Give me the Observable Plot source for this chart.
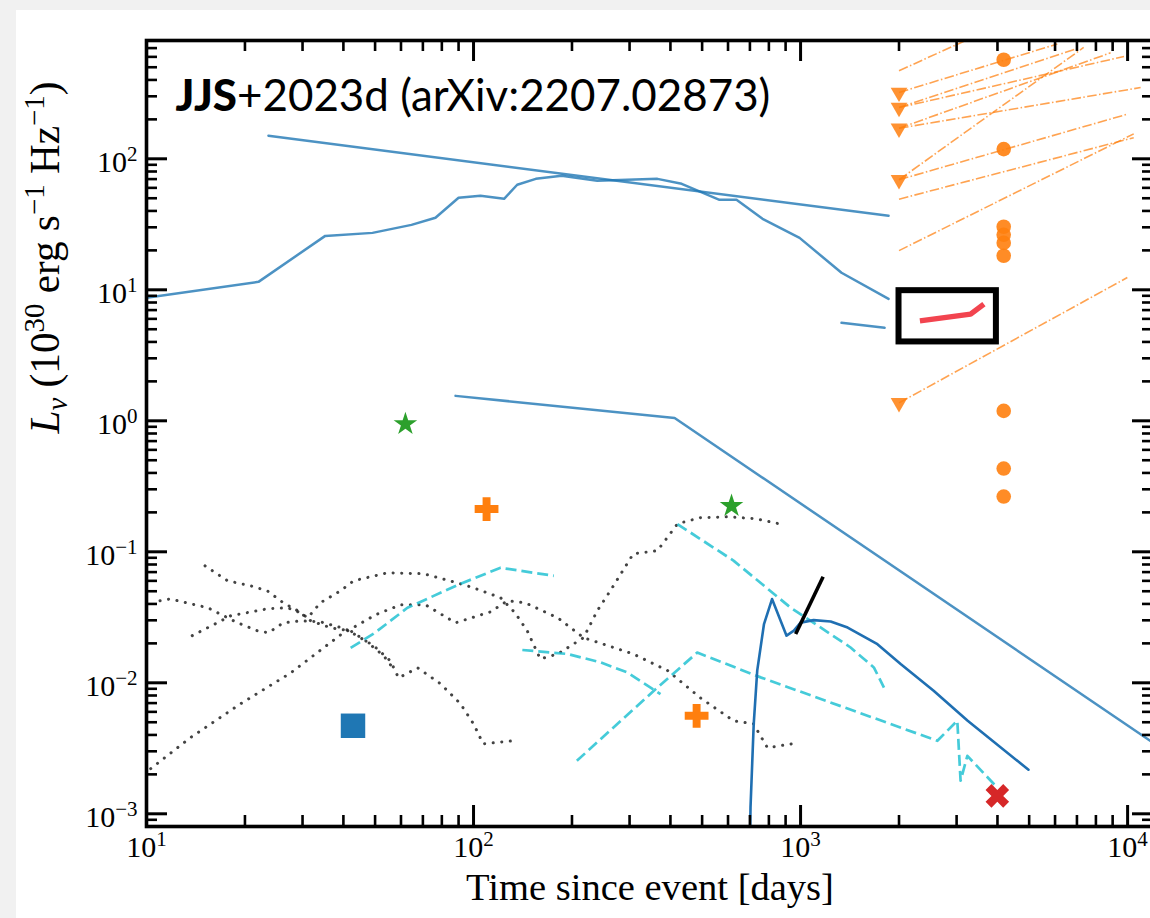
<!DOCTYPE html>
<html><head><meta charset="utf-8">
<script src="https://cdn.jsdelivr.net/npm/d3@7"></script>
<script src="https://cdn.jsdelivr.net/npm/@observablehq/plot@0.6"></script>
<style>
html,body{margin:0;padding:0;background:#f1f1f1;overflow:hidden;width:1150px;height:918px;}
#panel{position:absolute;left:16px;top:10px;width:1150px;height:908px;background:#fff;overflow:hidden;}
</style></head><body><div id="panel"></div>
<script>
// ---------- data (time in days, L_nu in 1e30 erg/s/Hz) ----------
const blueUpper = [[23.6,150],[1858,36.7]];
const blueBump = [[10,8.7],[22.0,11.5],[35.2,25.8],[49.1,27.2],[64.6,31.3],[76.5,35.5],[90.0,50.4],[105,52.2],[124,49.5],[136,63.4],[155,70.3],[186,74.2],[239,67.9],[365,70.3],[433,64.4],[565,48.6],[637,48.6],[765,34.8],[993,24.9],[1334,13.5],[1858,8.53]];
const blueShort = [[1334,5.6],[1807,5.13]];
const blueBroken = [[88.1,1.55],[412,1.05],[11750,3.6e-3]];
const blueDark = [[701,7e-4],[703,1.12e-3],[719,4.84e-3],[737,0.0124],[773,0.0281],[818,0.0436],[906,0.0229],[954,0.025],[1000,0.0288],[1096,0.0301],[1236,0.0294],[1393,0.0264],[1718,0.0197],[2023,0.0139],[2552,8.69e-3],[3243,5.13e-3],[4976,2.17e-3]];
const blackSeg = [[966,0.0236],[1172,0.0644]];
const redSeg = [[2317,5.79],[3311,6.52],[3636,7.78]];
const boxT = [2000,3970];
const boxL = [4.0,9.85];

const dotted1 = [[10.3,2.21e-3],[13.6,3.8e-3],[19.4,6.92e-3],[27.6,0.0119],[39.2,0.0232],[50.1,0.033],[59.8,0.0394],[71.3,0.0394],[88.1,0.0287],[112.7,0.0348],[127,0.0423],[144,0.0408],[181,0.0313],[217,0.0221],[308,0.0166],[392,0.0124],[494,7.67e-3],[624,5.13e-3],[718,4.86e-3],[792,3.19e-3],[979,3.48e-3]];
const dotted2 = [[13.8,0.0229],[18.1,0.0325],[23.4,0.0367],[27.0,0.0374],[29.6,0.0342],[31.1,0.0313],[34.0,0.0408],[39.2,0.0504],[43.0,0.0601],[54.6,0.0692],[70.3,0.068],[89.3,0.0579],[100,0.0531],[121,0.0446],[134,0.0342],[146,0.0249],[160,0.0152],[181,0.0166],[217,0.0221],[239,0.0355],[262,0.0504],[308,0.0966],[365,0.102],[421,0.164],[494,0.182],[598,0.185],[728,0.179],[857,0.164]];
const dotted3 = [[11.0,0.0423],[11.8,0.0437],[15.4,0.0374],[19.0,0.0287],[21.8,0.025],[23.6,0.0241],[26.2,0.0287],[29.6,0.0297],[34.0,0.0292],[40.6,0.0258],[49.5,0.0192],[55.7,0.0147],[59.0,0.0109],[67.5,0.013],[79.3,9.82e-3],[91.2,6.92e-3],[100,4.86e-3],[107,3.42e-3],[132,3.61e-3]];
const dotted4 = [[15.1,0.0781],[17.7,0.0601],[20.8,0.055],[23.4,0.0504],[26.2,0.0408],[29.0,0.0355],[31.8,0.0297],[36.6,0.0263],[42.1,0.0249],[46.8,0.0209],[53.1,0.0161],[56.9,0.0128]];

const cyan1 = [[42.1,0.0185],[49.5,0.0237],[62.8,0.0374],[91.2,0.057],[121,0.0755],[176,0.0656]];
const cyan2 = [[420,0.163],[625,0.0853],[931,0.0376],[1422,0.0186],[1675,0.0131],[1799,9.2e-3]];
const cyan3 = [[141,0.0178],[194,0.0166],[245,0.0143],[295,0.012],[373,8.2e-3]];
const cyan4 = [[207,2.54e-3],[356,8.69e-3],[483,0.017],[755,0.011],[2620,3.61e-3],[3015,5.13e-3],[3085,1.79e-3],[3236,2.77e-3],[3990,1.59e-3]];

const orangeLinks = [
  [2000,470,3300,830],[2000,321,6095,752],[2000,246,7015,695],[2000,246,9750,604],
  [2000,171,10960,350],[2000,171,8870,644],[2000,69.2,9980,219],[2000,69.2,7340,708],
  [2000,49.2,10440,145],[2000,19.9,10440,155],[2000,1.37,9980,12.4]
];
const triT = [2000,2000,2000,2000,2000];
const triL = [321,246,171,69.2,1.37];
const circT = [4180,4180,4180,4180,4180,4180,4180,4180,4180];
const circL = [570,118.6,30.3,26.3,22.8,18.2,1.19,0.432,0.264];

const squarePts = [[42.8,4.7e-3]];
const starPts = [[61.9,0.944],[615,0.224]];
const plusPts = [[109.6,0.212],[481,5.6e-3]];
const xPts = [[3996,1.37e-3]];

const xMajor = [10,100,1000,10000];
const xMajorLabels = ["10^{1}","10^{2}","10^{3}","10^{4}"];
const yMajor = [1e-3,1e-2,1e-1,1,10,100];
const yMajorLabels = ["10^{−3}","10^{−2}","10^{−1}","10^{0}","10^{1}","10^{2}"];
const titleText = "*{JJS}+2023d (arXiv:2207.02873)";
const xTitle = "Time since event [days]";
const yTitle = "~{L}_{ν} (10^{30} erg s^{−1} Hz^{−1})";

// ---------- layout ----------
const W = 1150, H = 908, mL = 130, mR = 13, mT = 30, mB = 92;
const frameW = W - mL - mR, frameH = H - mT - mB;
const xDom = [10, 12000], yDom = [8e-4, 800];
const xMinor = [], yMinor = [];
for (const d of [10,100,1000,10000]) for (let k = 2; k <= 9; k++) { const v = d*k; if (v < xDom[1]) xMinor.push(v); }
for (const e of [-4,-3,-2,-1,0,1,2]) for (let k = 2; k <= 9; k++) { const v = +(k + "e" + e); if (v > yDom[0] && v < yDom[1]) yMinor.push(v); }

const serif = "Liberation Serif";
const px = d => d[0], py = d => d[1];
const blue = "#1f77b4";

const svg = Plot.plot({
  width: W, height: H, marginLeft: mL, marginRight: mR, marginTop: mT, marginBottom: mB,
  style: "background:white;max-width:none;overflow:visible;",
  x: {type: "log", domain: xDom, axis: null},
  y: {type: "log", domain: yDom, axis: null},
  marks: [
    Plot.link(orangeLinks, {x1: d=>d[0], y1: d=>d[1], x2: d=>d[2], y2: d=>d[3], stroke: "#ff7f0e", strokeOpacity: 0.72, strokeWidth: 1.6, strokeDasharray: "9.6,2.4,1.5,2.4", strokeLinecap: "butt", clip: true}),
    ...[dotted1, dotted2, dotted3, dotted4].map(s => Plot.line(s, {x: px, y: py, stroke: "#222", strokeOpacity: 0.85, strokeWidth: 3, strokeDasharray: "0.1,8.5", strokeLinecap: "round", clip: true})),
    ...[cyan1, cyan2, cyan3, cyan4].map(s => Plot.line(s, {x: px, y: py, stroke: "#17becf", strokeOpacity: 0.8, strokeWidth: 2.7, strokeDasharray: "11,5", strokeLinecap: "butt", clip: true})),
    ...[blueUpper, blueBump, blueShort, blueBroken].map(s => Plot.line(s, {x: px, y: py, stroke: blue, strokeOpacity: 0.8, strokeWidth: 2.5, clip: true})),
    Plot.line(blueDark, {x: px, y: py, stroke: "#1f6fb2", strokeWidth: 2.6, clip: true}),
    Plot.line(blackSeg, {x: px, y: py, stroke: "black", strokeWidth: 3.6, strokeLinecap: "butt"}),
    Plot.line(redSeg, {x: px, y: py, stroke: "#f2444f", strokeWidth: 5.5, strokeLinecap: "butt"}),
    Plot.rect([0], {x1: () => boxT[0], x2: () => boxT[1], y1: () => boxL[0], y2: () => boxL[1], fill: "none", stroke: "black", strokeWidth: 6}),
    Plot.dot(triT, {x: d=>d, y: (d,i)=>triL[i], symbol: "triangle", rotate: 180, r: 6.2, fill: "#ff7f0e", fillOpacity: 0.85}),
    Plot.dot(circT, {x: d=>d, y: (d,i)=>circL[i], symbol: "circle", r: 7.3, fill: "#ff7f0e", fillOpacity: 0.9}),
    Plot.dot(squarePts, {x: px, y: py, symbol: "square", r: 13.8, fill: blue}),
    Plot.dot(starPts, {x: px, y: py, symbol: "star", r: 7.4, fill: "#2ca02c"}),
    Plot.dot(plusPts, {x: px, y: py, symbol: "cross", r: 10, fill: "#ff7f0e"}),
    Plot.dot(xPts, {x: px, y: py, symbol: "cross", rotate: 45, r: 10.5, fill: "#d62728"}),
    Plot.tickX(xMajor, {x: d=>d, insetTop: frameH - 21, stroke: "black", strokeWidth: 3}),
    Plot.tickX(xMajor, {x: d=>d, insetBottom: frameH - 21, stroke: "black", strokeWidth: 3}),
    Plot.tickX(xMinor, {x: d=>d, insetTop: frameH - 11, stroke: "black", strokeWidth: 2.6}),
    Plot.tickX(xMinor, {x: d=>d, insetBottom: frameH - 11, stroke: "black", strokeWidth: 2.6}),
    Plot.tickY(yMajor, {y: d=>d, insetRight: frameW - 21, stroke: "black", strokeWidth: 3}),
    Plot.tickY(yMajor, {y: d=>d, insetLeft: frameW - 21, stroke: "black", strokeWidth: 3}),
    Plot.tickY(yMinor, {y: d=>d, insetRight: frameW - 11, stroke: "black", strokeWidth: 2.6}),
    Plot.tickY(yMinor, {y: d=>d, insetLeft: frameW - 11, stroke: "black", strokeWidth: 2.6}),
    Plot.frame({stroke: "black", strokeWidth: 3.6}),
    Plot.text(xMajor, {x: d=>d, text: (d,i)=>xMajorLabels[i], frameAnchor: "bottom", lineAnchor: "bottom", dy: 30, fontSize: 30, fontFamily: serif, fill: "black"}),
    Plot.text(yMajor, {y: d=>d, text: (d,i)=>yMajorLabels[i], frameAnchor: "left", textAnchor: "end", lineAnchor: "bottom", dx: -9, dy: 13, fontSize: 30, fontFamily: serif, fill: "black"}),
    Plot.text([xTitle], {text: d=>d, frameAnchor: "bottom", lineAnchor: "bottom", dy: 73, fontSize: 33, fontFamily: serif, fill: "black"}),
    Plot.text([yTitle], {text: d=>d, frameAnchor: "left", lineAnchor: "bottom", rotate: -90, dx: -88, fontSize: 33, fontFamily: serif, fill: "black"}),
    Plot.text([titleText], {text: d=>d, frameAnchor: "top-left", textAnchor: "start", lineAnchor: "bottom", dx: 29, dy: 70, fontSize: 40, fontFamily: "Lato", fill: "black"})
  ]
});
document.getElementById("panel").appendChild(svg);

// ---------- rich text (superscripts / bold / italic) ----------
const NS = "http://www.w3.org/2000/svg";
function richify(t, fs) {
  const src = t.getAttribute("data-src");
  t.setAttribute("font-size", fs);
  if (src == null) return;
  while (t.firstChild) t.removeChild(t.firstChild);
  const re = /([\^_*~])\{([^}]*)\}|([^\^_*~]+)/g;
  let m, cur = 0;
  while ((m = re.exec(src))) {
    const ts = document.createElementNS(NS, "tspan");
    let off = 0, size = fs;
    if (m[1] === "^") { off = -0.36 * fs; size = 0.7 * fs; ts.textContent = m[2]; }
    else if (m[1] === "_") { off = 0.2 * fs; size = 0.7 * fs; ts.textContent = m[2]; ts.setAttribute("font-style", "italic"); }
    else if (m[1] === "*") { ts.textContent = m[2]; ts.setAttribute("font-weight", "900"); }
    else if (m[1] === "~") { ts.textContent = m[2]; ts.setAttribute("font-style", "italic"); }
    else ts.textContent = m[3];
    ts.setAttribute("font-size", size);
    if (off !== cur) ts.setAttribute("dy", off - cur);
    cur = off;
    t.appendChild(ts);
  }
}
const texts = Array.from(svg.querySelectorAll("text"));
texts.forEach(t => {
  const s = t.textContent;
  if (/[\^_*~]\{/.test(s)) { t.setAttribute("data-src", s); richify(t, parseFloat(getComputedStyle(t).fontSize)); }
});
function fit(match, target) {
  const t = texts.find(e => (e.getAttribute("data-src") || e.textContent).startsWith(match));
  if (!t) return;
  const fs = parseFloat(getComputedStyle(t).fontSize);
  const len = t.getComputedTextLength();
  if (len > 0) richify(t, fs * target / len);
}
fit("Time since", 368);
fit("~{L}", 352);
fit("*{JJS}", 595);
</script></body></html>
